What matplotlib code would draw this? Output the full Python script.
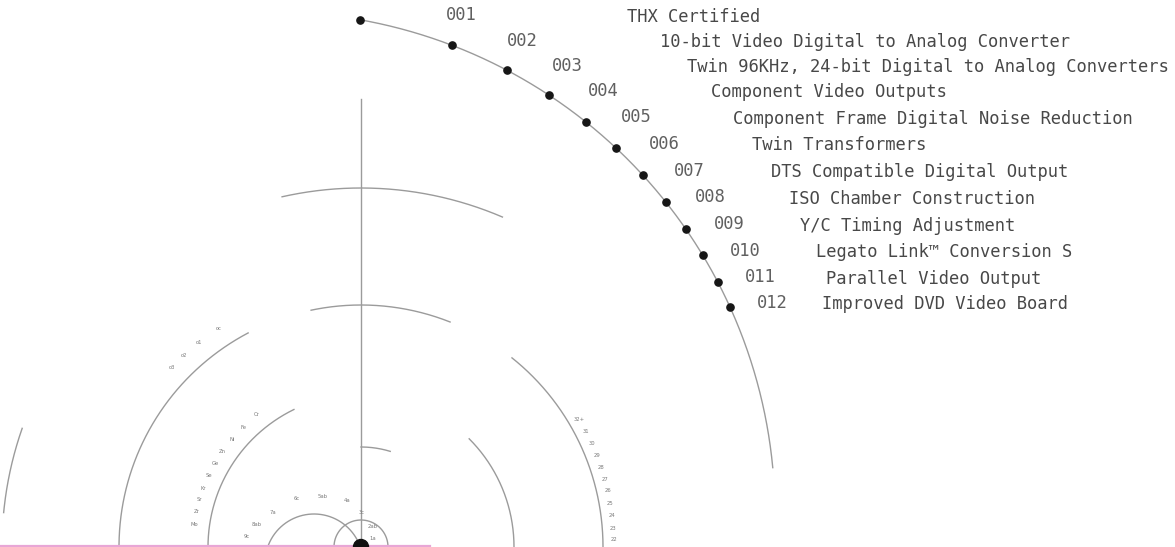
import numpy as np
import matplotlib
matplotlib.use('Agg')
import matplotlib.pyplot as plt
from matplotlib.patches import Circle

# feature list read along the big arc
codes = ['001', '002', '003', '004', '005', '006',
         '007', '008', '009', '010', '011', '012']
features = ['THX Certified',
            '10-bit Video Digital to Analog Converter',
            'Twin 96KHz, 24-bit Digital to Analog Converters',
            'Component Video Outputs',
            'Component Frame Digital Noise Reduction',
            'Twin Transformers',
            'DTS Compatible Digital Output',
            'ISO Chamber Construction',
            'Y/C Timing Adjustment',
            'Legato Link\u2122 Conversion S',
            'Parallel Video Output',
            'Improved DVD Video Board']
# angle (deg) of every dot on the big arc
dot_angles = [79.9, 69.0, 62.1, 56.6, 51.4, 46.8, 42.5, 38.5, 34.7, 31.1, 27.6, 24.4]

# rings round the hub: radius, start angle, end angle
ring_r = [359, 359, 242, 242, 242, 153, 153, 100]
ring_a0 = [66.8, 160.7, 68.4, 117.8, 0.0, 116.0, 0.0, 73.0]
ring_a1 = [102.7, 174.5, 101.9, 180.0, 51.4, 180.0, 45.0, 90.0]

# small labels round the hub
element_labels = ['Cr', 'Fe', 'Ni', 'Zn', 'Ge', 'Se', 'Kr', 'Sr', 'Zr', 'Mo']
element_angles = [128.2, 134.5, 140.3, 145.5, 150.3, 154.8, 159.5, 163.5, 167.7, 172.2]
sigma_labels = ['oc', 'o1', 'o2', 'o3']
sigma_angles = [123.1, 128.3, 132.7, 136.5]
shell_labels = ['32+', '31', '30', '29', '28', '27', '26', '25', '24', '23', '22']
shell_angles = [30.2, 27.2, 24.2, 21.3, 18.4, 15.4, 12.8, 10.0, 7.1, 4.3, 1.6]
orbit_labels = ['1a', '2ab', '3c', '4a', '5ab', '6c', '7a', '8ab', '9c']

# layout (pixel units, y measured from the bottom)
W, H = 1175, 547
hub = (361, 0)
big_c, big_r, big_end = (272, 32), 503, 5.4
code_r = 529
desc_x = [627, 660, 687, 711, 733, 752, 771, 789, 800, 816, 826, 822]
orbit_x = [373, 373, 362, 347, 323, 297, 273, 257, 247]
orbit_y = [9, 21, 34, 47, 50, 48, 35, 23, 10]
line_col = '#9b9b9b'

fig = plt.figure(figsize=(W / 100, H / 100), dpi=100)
ax = fig.add_axes([0, 0, 1, 1])
ax.set_xlim(0, W)
ax.set_ylim(0, H)
ax.axis('off')


def arc(c, r, a0, a1, **kw):
    t = np.radians(np.linspace(a0, a1, 300))
    ax.plot(c[0] + r * np.cos(t), c[1] + r * np.sin(t), **kw)


# rings and spoke
for r, a0, a1 in zip(ring_r, ring_a0, ring_a1):
    arc(hub, r, a0, a1, color=line_col, lw=1.0)
arc(hub, 27, 0, 360, color=line_col, lw=1.0)
arc((314, -16), 49, 0, 360, color=line_col, lw=1.0)
ax.plot([hub[0], hub[0]], [0, 448], color=line_col, lw=1.0)
ax.plot([0, 430], [1, 1], color='#e8a6d6', lw=1.6)
ax.add_patch(Circle(hub, 7.5, color='#111111', zorder=5))

# big arc with the features
arc(big_c, big_r, big_end, dot_angles[0], color=line_col, lw=1.0)
t = np.radians(dot_angles)
dx = big_c[0] + big_r * np.cos(t)
dy = big_c[1] + big_r * np.sin(t)
ax.plot(dx, dy, 'o', ms=5.2, color='#161616', zorder=4)

for i in range(len(codes)):
    ry = dy[i] + 4.5
    cx = big_c[0] + np.sqrt(code_r ** 2 - (ry - big_c[1]) ** 2)
    ax.text(cx, ry, codes[i], family='DejaVu Sans Mono', fontsize=12.3,
            color='#606060', ha='left', va='center')
    ax.text(desc_x[i], ry - 1.5, features[i], family='DejaVu Sans Mono',
            fontsize=12.3, color='#484848', ha='left', va='center')

# tiny labels
small = dict(fontsize=3.8, color='#7a7a7a', ha='center', va='center')
for lab, a in zip(element_labels, element_angles):
    ax.text(hub[0] + 168 * np.cos(np.radians(a)), hub[1] + 168 * np.sin(np.radians(a)), lab, **small)
for lab, a in zip(sigma_labels, sigma_angles):
    ax.text(hub[0] + 261 * np.cos(np.radians(a)), hub[1] + 261 * np.sin(np.radians(a)), lab, **small)
for lab, a in zip(shell_labels, shell_angles):
    ax.text(hub[0] + 253 * np.cos(np.radians(a)), hub[1] + 253 * np.sin(np.radians(a)), lab, **small)
for lab, x, y in zip(orbit_labels, orbit_x, orbit_y):
    ax.text(x, y, lab, **small)

fig.savefig('out.png', dpi=100)
